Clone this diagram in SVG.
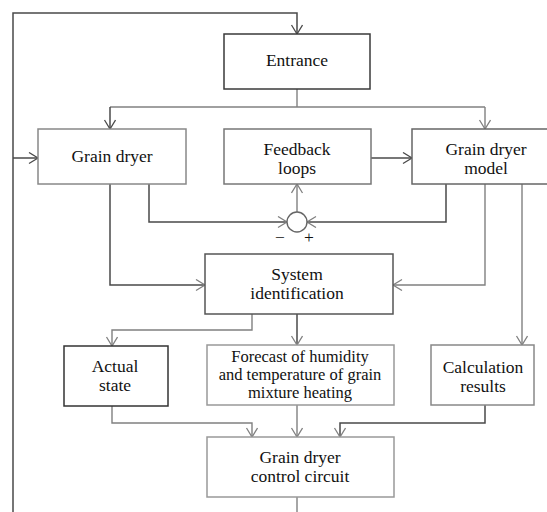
<svg xmlns="http://www.w3.org/2000/svg" width="547" height="512" viewBox="0 0 547 512">
<style>
  .box { fill: #ffffff; stroke-width: 1.5; }
  .t { font-family: "Liberation Serif", "Times New Roman", serif; font-size: 17.5px; fill: #111; text-anchor: middle; }
  .ts { font-family: "Liberation Serif", "Times New Roman", serif; font-size: 16.5px; fill: #111; text-anchor: middle; }
  .c { fill: none; stroke: #808080; stroke-width: 1.4; }
  .cd { fill: none; stroke: #4a4a4a; stroke-width: 1.5; }
</style>
<defs>
  <marker id="ag" markerUnits="userSpaceOnUse" markerWidth="14" markerHeight="14" refX="10" refY="6" orient="auto">
    <path d="M1,0.5 L10,6 L1,11.5" fill="none" stroke="#808080" stroke-width="1.3"/>
  </marker>
  <marker id="ad" markerUnits="userSpaceOnUse" markerWidth="14" markerHeight="14" refX="10" refY="6" orient="auto">
    <path d="M1,0.5 L10,6 L1,11.5" fill="none" stroke="#4a4a4a" stroke-width="1.3"/>
  </marker>
</defs>
<rect width="547" height="512" fill="#ffffff"/>

<g id="connectors">
  <path class="cd" d="M13,512 V13 H297 V34" marker-end="url(#ad)"/>
  <path class="cd" d="M13,158 H38" marker-end="url(#ad)"/>
  <path class="c" d="M297,497 V512"/>
  <path class="c" d="M297,89 V107"/>
  <path class="c" d="M110,107 H485"/>
  <path class="cd" d="M110,107 V129" marker-end="url(#ad)"/>
  <path class="c" d="M485,107 V129" marker-end="url(#ag)"/>
  <path class="cd" d="M371,158 H412" marker-end="url(#ad)"/>
  <path class="cd" d="M149,184 V222 H287" marker-end="url(#ag)"/>
  <path class="cd" d="M446,184 V222 H307" marker-end="url(#ag)"/>
  <path class="c" d="M297,212 V184" marker-end="url(#ag)"/>
  <path class="cd" d="M110,184 V285 H205" marker-end="url(#ag)"/>
  <path class="c" d="M485,184 V285 H393" marker-end="url(#ag)"/>
  <path class="c" d="M522,184 V345" marker-end="url(#ag)"/>
  <path class="c" d="M252,314 V330 H112 V346" marker-end="url(#ag)"/>
  <path class="cd" d="M297,314 V345" marker-end="url(#ag)"/>
  <path class="c" d="M112,406 V423 H252 V437" marker-end="url(#ag)"/>
  <path class="c" d="M297,405 V437" marker-end="url(#ag)"/>
  <path class="cd" d="M485,405 V423 H340 V437" marker-end="url(#ag)"/>
</g>

<g id="sum">
  <circle cx="297" cy="222" r="10" fill="#ffffff" stroke="#666" stroke-width="1.4"/>
  <text class="t" x="280" y="243" font-size="16">−</text>
  <text class="t" x="309" y="243" font-size="16">+</text>
</g>

<g id="entrance">
  <rect class="box" x="224" y="34" width="146" height="55" stroke="#3a3a3a"/>
  <text class="t" x="297" y="66">Entrance</text>
</g>

<g id="grain-dryer">
  <rect class="box" x="38" y="129" width="148" height="55" stroke="#888"/>
  <text class="t" x="112" y="162">Grain dryer</text>
</g>

<g id="feedback-loops">
  <rect class="box" x="224" y="129" width="147" height="55" stroke="#777"/>
  <text class="t" x="297" y="154.5">Feedback</text>
  <text class="t" x="297" y="173.5">loops</text>
</g>

<g id="grain-dryer-model">
  <rect class="box" x="412" y="129" width="145" height="55" stroke="#666"/>
  <text class="t" x="486" y="154.5">Grain dryer</text>
  <text class="t" x="486" y="173.5">model</text>
</g>

<g id="system-identification">
  <rect class="box" x="205" y="254" width="188" height="60" stroke="#555"/>
  <text class="t" x="297" y="279.5">System</text>
  <text class="t" x="297" y="298.5">identification</text>
</g>

<g id="actual-state">
  <rect class="box" x="64" y="346" width="104" height="60" stroke="#333"/>
  <text class="t" x="115" y="371.5">Actual</text>
  <text class="t" x="115" y="390.5">state</text>
</g>

<g id="forecast">
  <rect class="box" x="207" y="345" width="187" height="60" stroke="#999"/>
  <text class="ts" x="300" y="361.5">Forecast of humidity</text>
  <text class="ts" x="300" y="379.5">and temperature of grain</text>
  <text class="ts" x="300" y="397.5">mixture heating</text>
</g>

<g id="calculation-results">
  <rect class="box" x="431" y="345" width="103" height="60" stroke="#888"/>
  <text class="t" x="483" y="372.5">Calculation</text>
  <text class="t" x="483" y="391.5">results</text>
</g>

<g id="control-circuit">
  <rect class="box" x="207" y="437" width="187" height="60" stroke="#999"/>
  <text class="t" x="300" y="462.5">Grain dryer</text>
  <text class="t" x="300" y="481.5">control circuit</text>
</g>
</svg>
